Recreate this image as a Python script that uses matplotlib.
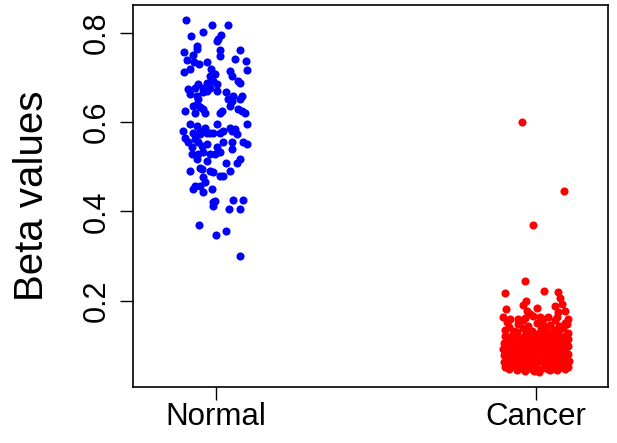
import matplotlib
matplotlib.use("Agg")
import matplotlib.pyplot as plt

plt.rcParams["font.family"] = ["Liberation Sans", "DejaVu Sans"]

# -----------------------------------------------------------------------------
# Data (beta values per sample, with the horizontal jitter)
# -----------------------------------------------------------------------------

groups = ["Normal", "Cancer"]
y_ticks = [0.2, 0.4, 0.6, 0.8]

normal_vals = [
    .828, .817, .817, .793, .801, .794, .786, .780, .770, .764, .762, .762, .756,
    .750, .748, .739, .734, .729, .734, .741, .736, .718, .718, .712, .713,
    .703, .707, .692, .688, .684, .677, .677, .703, .692, .686, .716, .684, .677,
    .673, .662, .658, .651, .669, .666, .658, .651, .647, .651, .658, .666, .669,
    .636, .640, .634, .628, .621, .621, .621, .625, .636, .628, .625, .621, .625,
    .595, .591, .580, .587, .595, .580, .587, .584, .595, .580, .576, .576,
    .573, .575, .575, .576, .579, .573, .565, .561, .554, .554, .554, .554, .554,
    .550, .543, .546, .550, .543, .539, .528, .528, .532, .528, .528, .532, .513,
    .517, .509, .509, .517, .491, .498, .494, .491, .487, .479, .479, .491, .476,
    .465, .457, .456, .450, .444,
    .450, .420, .423, .412, .426, .426, .406, .406, .370, .347, .356, .301,
]
normal_jit = [
    -.094, -.012, .038, -.079, -.041, .016, .008, .003, -.060, -.058, .013, .075, -.099,
    -.073, .013, -.090, -.069, -.052, -.028, .060, .095, -.080, -.015, -.099, .044,
    -.019, -.003, -.008, -.029, .002, -.019, -.040, .049, .070, .075, .096, -.055, -.066,
    -.087, -.081, -.060, -.055, .002, .033, .054, .038, .049, .075, .080, -.040, -.029,
    -.071, -.060, -.050, -.040, -.066, -.034, .013, .018, .044, .070, .080, .091, -.097,
    -.081, -.060, -.050, -.034, .002, .023, .044, .059, .096, -.102, -.071, -.019,
    -.050, -.029, -.008, .013, .049, .065, -.097, -.066, -.055, -.087, .023, .049, .085,
    .096, -.076, -.045, -.029, .002, .049, -.076, -.055, -.040, -.019, -.003, .013, -.029,
    -.060, .033, .065, .075, -.081, -.050, -.045, -.019, -.008, .013, .023, .044, -.040,
    -.034, -.066, -.050, -.013, -.040,
    -.071, -.008, -.003, -.010, .054, .085, .042, .075, -.052, -.001, .031, .076,
]

cancer_vals = [
    # outliers and sparse upper points
    .600, .446, .370, .245, .217, .221, .219, .206, .200, .191, .193, .189, .181, .184,
    .178, .178, .170, .166, .174, .163, .159, .163, .159, .159, .161, .163, .159, .163,
    # .150 - .160
    .153, .156, .152, .157, .151,
    # .131 - .150
    .135, .142, .133, .147, .138, .144, .132, .149, .137, .141, .146, .134, .143, .139,
    .148, .136,
    # .116 - .130
    .121, .118, .126, .129, .117, .123, .128, .119, .125, .130, .120, .127, .116, .124,
    .129, .118, .122, .127, .119, .125,
    # .101 - .115
    .106, .112, .103, .109, .114, .102, .108, .111, .104, .113, .107, .101, .110, .115,
    .105, .112, .103, .109, .114, .106, .111, .104, .108, .102,
    # .086 - .100
    .091, .087, .096, .089, .099, .093, .086, .097, .090, .095, .088, .100, .092, .087,
    .098, .094, .089, .096, .091, .099, .086, .093, .097, .090, .095, .088,
    # .071 - .085
    .078, .072, .083, .075, .080, .073, .085, .077, .071, .082, .076, .084, .073, .079,
    .081, .074, .086, .077, .072, .080, .083, .075, .078, .085, .071, .082,
    # .056 - .070
    .062, .058, .067, .060, .065, .057, .069, .061, .066, .059, .064, .070, .058, .063,
    .068, .060, .066, .057, .062, .069, .064, .056, .067, .061, .058, .065,
    # .040 - .055
    .052, .048, .055, .045, .050, .043, .054, .047, .051, .041, .049, .053, .044, .050,
    .046, .055, .048, .052, .042, .047, .054, .049,
]
cancer_jit = [
    -.045, .088, -.008, -.035, -.096, .025, .070, .075, -.031, -.042, .080, .059, -.094, .004,
    -.029, .091, -.019, -.008, .070, .065, .101, -.102, -.081, -.055, -.034, .013, .023, .038,
    -.090, -.040, .020, .060, .090,
    -.098, -.086, -.070, -.055, -.041, -.026, -.012, .002, .015, .030, .044, .057, .071, .084,
    .096, -.030,
    -.097, -.083, -.071, -.059, -.047, -.033, -.021, -.009, .004, .016, .026, .038, .048, .059,
    .068, .079, .090, .099, -.065, .052,
    -.100, -.087, -.075, -.063, -.050, -.039, -.028, -.016, -.004, .007, .018, .029, .039, .049,
    .060, .071, .081, .092, .101, -.057, .034, -.092, .086, .012,
    -.102, -.091, -.080, -.068, -.058, -.046, -.035, -.023, -.011, .001, .012, .022, .031, .042,
    .051, .061, .070, .080, .090, .099, -.074, .026, -.040, .065, -.097, .005,
    -.099, -.088, -.077, -.064, -.052, -.041, -.031, -.019, -.008, .003, .014, .024, .035, .044,
    .055, .063, .073, .082, .091, .100, -.045, .019, -.070, .088, .050, -.013,
    -.101, -.090, -.081, -.069, -.057, -.044, -.038, -.026, -.015, -.003, .008, .017, .027, .036,
    .047, .058, .066, .077, .086, .095, .102, -.051, -.092, .041, -.020, .083,
    -.098, -.085, -.072, -.060, -.047, -.035, -.024, -.012, .000, .010, .021, .033, .045, .056,
    .067, .078, .089, .099, -.005, .038, -.066, .072,
]

# -----------------------------------------------------------------------------
# Plot
# -----------------------------------------------------------------------------

fig = plt.figure(figsize=(6.17, 4.43), dpi=100)
ax = fig.add_axes([0.2156, 0.1275, 0.7699, 0.8616])

series = [(normal_vals, normal_jit, "#0000ff"), (cancer_vals, cancer_jit, "#ff0000")]
for pos, (vals, jit, color) in enumerate(series, start=1):
    xs = [pos + j for j in jit]
    ax.scatter(xs, vals, s=34, color=color, linewidths=0, zorder=3)

ax.set_xlim(0.741, 2.225)
ax.set_ylim(0.008, 0.862)

ax.set_xticks([1, 2], groups, fontsize=22.5)
ax.set_yticks(y_ticks, [f"{t:.1f}" for t in y_ticks], fontsize=22, rotation=90, va="center")
ax.tick_params(axis="both", direction="out", length=9.4, width=1.0, color="black")
ax.tick_params(axis="x", pad=2)
ax.tick_params(axis="y", pad=6)
ax.set_ylabel("Beta values", fontsize=29, labelpad=22)

for spine in ax.spines.values():
    spine.set_linewidth(1.2)
    spine.set_color("black")

fig.savefig("out.png", dpi=100)
